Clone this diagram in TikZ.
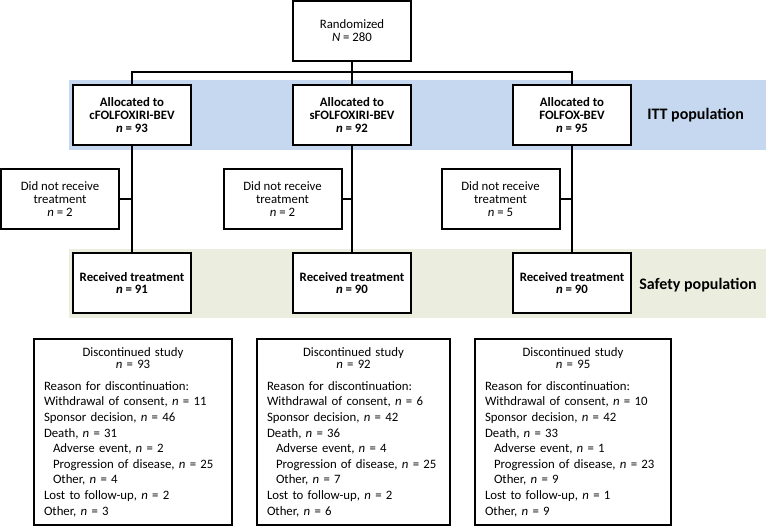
\documentclass[tikz,border=0pt]{standalone}
\usepackage{fontspec}
\setmainfont{Carlito}
\definecolor{ittblue}{RGB}{198,216,239}
\definecolor{safegreen}{RGB}{235,238,223}
\newcommand\discText[9]{{\centering\fontsize{9.6}{9}\selectfont Discontinued study\\\textit{n} = #1\par}\vspace{4.8pt}\fontsize{9.6}{11.7}\selectfont Reason for discontinuation:\\Withdrawal of consent, \textit{n} = #2\\Sponsor decision, \textit{n} = #3\\Death, \textit{n} = #4\\\hspace*{6.75pt}Adverse event, \textit{n} = #5\\\hspace*{6.75pt}Progression of disease, \textit{n} = #6\\\hspace*{6.75pt}Other, \textit{n} = #7\\Lost to follow-up, \textit{n} = #8\\Other, \textit{n} = #9\par}
\begin{document}
\begin{tikzpicture}[x=0.75pt,y=-0.75pt,
  box/.style={draw, line width=1.5pt, fill=white, minimum width=88.5pt, minimum height=45pt, inner sep=0pt, align=center, font=\fontsize{9.6}{9.6}\selectfont},
  bbox/.style={box, font=\fontsize{9.6}{9.6}\selectfont\bfseries},
  conn/.style={line width=1.5pt},
  disc/.style={draw, line width=1.5pt, fill=white, anchor=north west, minimum height=139.5pt, inner xsep=7.5pt, inner ysep=0pt, align=left, font=\fontsize{9.6}{11.7}\selectfont},
  pop/.style={font=\fontsize{12}{14}\selectfont\bfseries, anchor=west, inner sep=0pt}]
\useasboundingbox (0,0) rectangle (766,525);
\fill[ittblue] (69,80) rectangle (766,150);
\fill[safegreen] (69,249) rectangle (766,318);

\node[box] (rand) at (352,30.5) {Randomized\\\textit{N} = 280};
\node[bbox] (a1) at (132,115) {Allocated to\\cFOLFOXIRI-BEV\\\textit{n} = 93};
\node[bbox] (a2) at (352,115) {Allocated to\\sFOLFOXIRI-BEV\\\textit{n} = 92};
\node[bbox] (a3) at (572,115) {Allocated to\\FOLFOX-BEV\\\textit{n} = 95};
\node[pop] (itt) at (647,115) {ITT population};

\node[box] (d1) at (60,199) {Did not receive\\treatment\\\textit{n} = 2};
\node[box] (d2) at (282.5,199) {Did not receive\\treatment\\\textit{n} = 2};
\node[box] (d3) at (500.5,199) {Did not receive\\treatment\\\textit{n} = 5};

\node[bbox] (r1) at (132,283) {Received treatment\\\textit{n} = 91};
\node[bbox] (r2) at (352,283) {Received treatment\\\textit{n} = 90};
\node[bbox] (r3) at (572,283) {Received treatment\\\textit{n} = 90};
\node[pop] (safety) at (639,285) {Safety population};

\node[disc, text width=133.5pt] (s1) at (33,338) {\discText{93}{11}{46}{31}{2}{25}{4}{2}{3}};
\node[disc, text width=129.75pt] (s2) at (256,338) {\discText{92}{6}{42}{36}{4}{25}{7}{2}{6}};
\node[disc, text width=132pt] (s3) at (474,338) {\discText{95}{10}{42}{33}{1}{23}{9}{1}{9}};

\coordinate (split) at (352,72);
\draw[conn] (rand.south) -- (a2.north);
\draw[conn] (a1.north) |- (split) -| (a3.north);
\draw[conn] (a1.south) -- (r1.north);
\draw[conn] (a2.south) -- (r2.north);
\draw[conn] (a3.south) -- (r3.north);
\draw[conn] (d1.east) -- (d1.east -| a1.south);
\draw[conn] (d2.east) -- (d2.east -| a2.south);
\draw[conn] (d3.east) -- (d3.east -| a3.south);
\end{tikzpicture}
\end{document}
